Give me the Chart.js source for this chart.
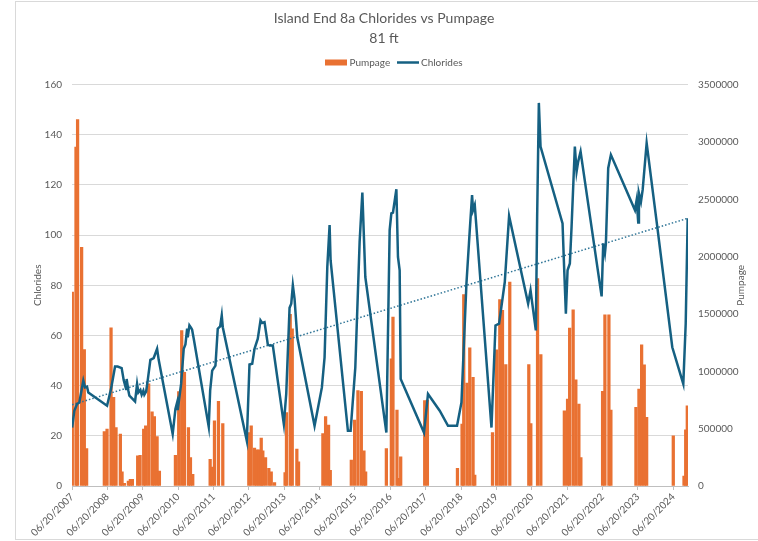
<!DOCTYPE html>
<html>
<head>
<meta charset="utf-8">
<script src="https://cdn.jsdelivr.net/npm/chart.js@4.4.1/dist/chart.umd.min.js"></script>
<style>
  html, body { margin: 0; padding: 0; background: #ffffff; }
  #wrap { width: 758px; height: 541px; position: relative; }
</style>
</head>
<body>
<div id="wrap"><canvas id="grafico" width="758" height="541"></canvas></div>
<script>
// datas em anos decimais (06/20 = .466)
const anosCloreto = [
    2007.47, 2007.531, 2007.608, 2007.673, 2007.786, 2007.834, 2007.891, 2007.927,
    2008.457, 2008.502, 2008.570, 2008.683, 2008.757, 2008.870, 2008.927, 2008.995,
    2009.011, 2009.060, 2009.088, 2009.249, 2009.306, 2009.343, 2009.399, 2009.436,
    2009.484, 2009.512, 2009.561, 2009.606, 2009.682, 2009.776, 2009.872, 2009.917,
    2010.313, 2010.390, 2010.438, 2010.455, 2010.551, 2010.625, 2010.673, 2010.721,
    2010.738, 2010.786, 2010.834, 2010.862, 2010.908, 2011.332, 2011.372, 2011.429,
    2011.522, 2011.587, 2011.655, 2011.700, 2011.729, 2012.408, 2012.484, 2012.561,
    2012.626, 2012.719, 2012.796, 2012.844, 2012.909, 2013.002, 2013.050, 2013.144,
    2013.455, 2013.523, 2013.617, 2013.665, 2013.710, 2013.758, 2013.835, 2014.324,
    2014.531, 2014.607, 2014.684, 2014.749, 2014.777, 2015.267, 2015.343, 2015.476,
    2015.598, 2015.675, 2015.759, 2016.354, 2016.447, 2016.495, 2016.541, 2016.637,
    2016.682, 2016.730, 2016.759, 2017.418, 2017.531, 2017.862, 2018.097, 2018.352,
    2018.477, 2018.618, 2018.712, 2018.777, 2018.805, 2018.853, 2019.326, 2019.439,
    2019.541, 2019.702, 2019.824, 2020.362, 2020.430, 2020.580, 2020.617, 2020.665,
    2020.713, 2021.335, 2021.372, 2021.429, 2021.477, 2021.542, 2021.590, 2021.683,
    2021.732, 2021.777, 2021.845, 2022.440, 2022.485, 2022.533, 2022.561, 2022.626,
    2022.702, 2023.382, 2023.430, 2023.475, 2023.495, 2023.552, 2023.600, 2023.713,
    2023.996, 2024.438, 2024.749, 2024.817, 2024.873
];
const valoresCloreto = [
    23.3, 30, 32.7, 33.3, 42, 39.3, 39.6, 37.3,
    32, 34.7, 38.7, 47.6, 47.6, 47, 42.3, 38.7,
    42.7, 38, 36, 33.7, 40.7, 37.3, 38.3, 36.4,
    38, 36.4, 37.6, 42, 50.3, 51, 54.7, 50.3,
    20.7, 30.7, 33.3, 30.3, 40.7, 54.7, 56.4, 62.7,
    59.3, 64, 63, 62.3, 58.7, 23.6, 38, 46,
    48, 62.7, 63.6, 68, 63.3, 18, 48.4, 48.7,
    54.7, 58.7, 66, 65, 65.3, 56.4, 56, 56,
    24.7, 36.7, 71, 72.7, 80, 74.7, 59.3, 24,
    39.3, 51.3, 87.3, 104, 90, 22, 22, 47.3,
    97.3, 117, 83.3, 21.3, 102, 108.7, 109, 118.3,
    91.3, 86, 42.7, 21.3, 36.7, 30, 24, 24,
    33.3, 80.7, 102, 116, 110, 112, 23.3, 64,
    64.7, 81.3, 107.6, 72.7, 78, 62, 107.3, 152.7,
    135.3, 104.7, 90, 68.7, 86, 88.7, 103.3, 135.3,
    125.3, 129.3, 133.3, 75.6, 96.7, 92.7, 96.7, 126.7,
    132, 110, 114, 105, 116.7, 113.3, 118, 136.7,
    105.3, 55.3, 40.7, 64.7, 106.7
];

const anosBombeamento = [
    2007.475, 2007.579, 2007.624, 2007.738, 2007.814, 2007.879,
    2008.380, 2008.457, 2008.570, 2008.643, 2008.711, 2008.833, 2008.881, 2008.946,
    2009.060, 2009.116, 2009.173, 2009.323, 2009.391, 2009.493, 2009.549, 2009.634,
    2009.730, 2009.795, 2009.872, 2009.937,
    2010.390, 2010.483, 2010.568, 2010.645, 2010.758, 2010.815, 2010.880,
    2011.372, 2011.429, 2011.494, 2011.607, 2011.729,
    2012.465, 2012.533, 2012.626, 2012.691, 2012.754, 2012.816, 2012.861, 2012.938,
    2013.031, 2013.099, 2013.192, 2013.490, 2013.530, 2013.636, 2013.693, 2013.823, 2013.871,
    2014.559, 2014.636, 2014.720, 2014.768,
    2015.363, 2015.457, 2015.550, 2015.646, 2015.720, 2015.768,
    2016.354, 2016.495, 2016.541, 2016.654, 2016.710, 2016.759,
    2017.438, 2017.514,
    2018.364, 2018.494, 2018.542, 2018.635, 2018.712, 2018.805, 2018.853,
    2019.355, 2019.468, 2019.561, 2019.637, 2019.730, 2019.843,
    2020.381, 2020.438, 2020.628, 2020.721,
    2021.386, 2021.477, 2021.536, 2021.635, 2021.711, 2021.797, 2021.853,
    2022.467, 2022.533, 2022.646, 2022.702,
    2023.410, 2023.495, 2023.571, 2023.645, 2023.713,
    2024.466, 2024.769, 2024.817, 2024.862
];
const valoresBombeamento = [
    1691000, 2955000, 3194000, 2080000, 1190000, 326000,
    475000, 496000, 1380000, 773000, 510000, 452000, 122500, 23000,
    43750, 58000, 58000, 262500, 268000, 496000, 525000, 890000,
    647500, 606000, 431000, 131000,
    268000, 822500, 1356000, 991000, 510000, 248000, 102000,
    233000, 166000, 569000, 738000, 545000,
    466000, 525000, 330000, 315000, 315000, 417000, 306000, 248000,
    155000, 122500, 29000, 117000, 641000, 1496000, 1371000, 321000, 210000,
    458000, 606000, 531000, 137000,
    225000, 575000, 831000, 825000, 306000, 122500,
    326000, 1108000, 1473000, 662000, 67000, 254000,
    744000, 750000,
    155000, 540000, 1668000, 898000, 1205000, 948000, 96000,
    466000, 1187000, 1625000, 1531000, 1059000, 1779000,
    1059000, 545000, 1808000, 1146000,
    656000, 758000, 1376000, 1537000, 925000, 715000, 248000,
    825000, 1493000, 1493000, 662000,
    685000, 846000, 1231000, 1056000, 598000,
    437500, 87500, 490000, 700000
];

// linha de tendencia
const anosTendencia = [2007.47, 2024.873];
const valoresTendencia = [32.4, 106.7];

const anosRotulo = [2007, 2008, 2009, 2010, 2011, 2012, 2013, 2014, 2015,
    2016, 2017, 2018, 2019, 2020, 2021, 2022, 2023, 2024];
const fracaoJunho = 0.466;

const corTexto = '#595959';
const corBarra = '#E97132';
const corLinha = '#156082';
const fonte = 'Lato, "Open Sans", sans-serif';

function pares(xs, ys) {
    return xs.map((x, i) => ({ x: x, y: ys[i] }));
}

// fundo, moldura, legenda e titulo do eixo direito
const extras = {
    id: 'extras',
    beforeDraw(chart) {
        const c = chart.ctx;
        c.save();
        c.fillStyle = '#ffffff';
        c.fillRect(0, 0, chart.width, chart.height);
        c.strokeStyle = '#d9d9d9';
        c.lineWidth = 1;
        c.strokeRect(15.5, 1.5, 760, 538);
        c.restore();
    },
    afterDraw(chart) {
        const c = chart.ctx;
        const area = chart.chartArea;
        c.save();
        c.font = '10px ' + fonte;
        c.fillStyle = corTexto;
        c.textBaseline = 'middle';
        c.textAlign = 'left';

        // legenda
        const yLeg = 62.5;
        c.fillStyle = corBarra;
        c.fillRect(325, yLeg - 3, 22, 6);
        c.fillStyle = corTexto;
        c.fillText('Pumpage', 349.5, yLeg);
        c.strokeStyle = corLinha;
        c.lineWidth = 2.5;
        c.beginPath();
        c.moveTo(397, yLeg);
        c.lineTo(419, yLeg);
        c.stroke();
        c.fillText('Chlorides', 421, yLeg);

        // titulo do eixo direito
        c.translate(741, (area.top + area.bottom) / 2);
        c.rotate(-Math.PI / 2);
        c.textAlign = 'center';
        c.fillText('Pumpage', 0, 0);
        c.restore();
    }
};

const ctx = document.getElementById('grafico').getContext('2d');
const grafico = new Chart(ctx, {
    type: 'bar',
    data: {
        datasets: [
            {
                type: 'bar',
                label: 'Pumpage',
                data: pares(anosBombeamento, valoresBombeamento),
                yAxisID: 'y1',
                backgroundColor: corBarra,
                barThickness: 2.6,
                order: 3
            },
            {
                type: 'line',
                label: 'Chlorides',
                data: pares(anosCloreto, valoresCloreto),
                yAxisID: 'y',
                borderColor: corLinha,
                backgroundColor: corLinha,
                borderWidth: 2.5,
                pointRadius: 0,
                tension: 0,
                order: 1
            },
            {
                type: 'line',
                label: 'Trend',
                data: pares(anosTendencia, valoresTendencia),
                yAxisID: 'y',
                borderColor: '#2f7597',
                borderWidth: 1.5,
                borderDash: [1.5, 2],
                pointRadius: 0,
                order: 2
            }
        ]
    },
    options: {
        responsive: false,
        animation: false,
        layout: { padding: { left: 28, right: 18, top: 0, bottom: 4 } },
        plugins: {
            title: {
                display: true,
                text: 'Island End 8a Chlorides vs Pumpage',
                color: corTexto,
                font: { family: fonte, size: 14, weight: 'normal' },
                padding: { top: 10, bottom: 3 }
            },
            subtitle: {
                display: true,
                text: '81 ft',
                color: corTexto,
                font: { family: fonte, size: 14, weight: 'normal' },
                padding: { top: 0, bottom: 38 }
            },
            legend: { display: false },
            tooltip: { enabled: false }
        },
        scales: {
            x: {
                type: 'linear',
                min: 2007.466,
                max: 2024.882,
                offset: false,
                afterBuildTicks: scale => {
                    scale.ticks = anosRotulo.map(a => ({ value: a + fracaoJunho }));
                },
                afterFit: scale => { scale.height = 51; },
                ticks: {
                    color: corTexto,
                    font: { family: fonte, size: 10 },
                    minRotation: 45,
                    maxRotation: 45,
                    autoSkip: false,
                    padding: 1,
                    callback: v => '06/20/' + Math.round(v - fracaoJunho)
                },
                grid: {
                    offset: false,
                    drawOnChartArea: false,
                    drawTicks: true,
                    tickLength: 4,
                    color: '#bfbfbf'
                },
                border: { color: '#bfbfbf' }
            },
            y: {
                position: 'left',
                min: 0,
                max: 160,
                afterFit: scale => { scale.width = 44; },
                ticks: {
                    stepSize: 20,
                    color: corTexto,
                    font: { family: fonte, size: 10 },
                    padding: 10
                },
                grid: { color: '#d9d9d9', drawTicks: false },
                border: { display: false },
                title: {
                    display: true,
                    text: 'Chlorides',
                    color: corTexto,
                    font: { family: fonte, size: 10 }
                }
            },
            y1: {
                position: 'right',
                min: 0,
                max: 3500000,
                afterFit: scale => { scale.width = 52; },
                ticks: {
                    stepSize: 500000,
                    color: corTexto,
                    font: { family: fonte, size: 10 },
                    padding: 10,
                    callback: v => String(v)
                },
                grid: { drawOnChartArea: false, drawTicks: false },
                border: { display: false }
            }
        }
    },
    plugins: [extras]
});
</script>
</body>
</html>
